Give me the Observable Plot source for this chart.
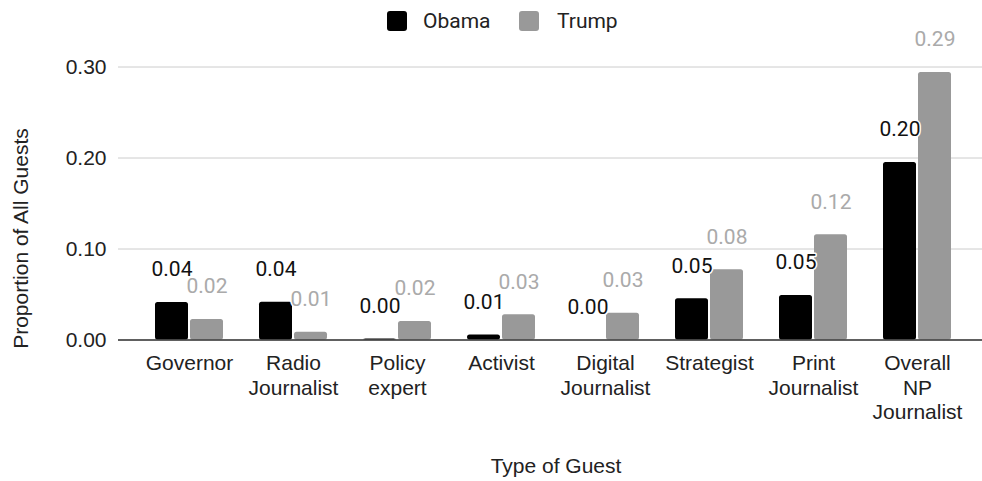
<!DOCTYPE html>
<html>
<head>
<meta charset="utf-8">
<script src="https://cdn.jsdelivr.net/npm/d3@7"></script>
<script src="https://cdn.jsdelivr.net/npm/@observablehq/plot@0.6"></script>
<style>
  body { margin: 0; background: #fff; }
  #wrap { position: relative; width: 982px; height: 481px; overflow: hidden; background: #fff; color: #222; }
  #chart { position: absolute; left: 0; top: 30px; }
  .sw { position: absolute; width: 20px; height: 20px; border-radius: 3px; top: 11px; }
  .lt { position: absolute; top: 11px; font: 21px/21px Roboto, "Liberation Sans", sans-serif; color: #222; white-space: nowrap; }
  #ytitle { position: absolute; width: 300px; height: 21px; left: -130.5px; top: 227.5px; text-align: center;
            font: 21px/21px "Liberation Sans", Arial, sans-serif; color: #222; transform: rotate(-90deg); transform-origin: 50% 50%; white-space: nowrap; }
  #xtitle { position: absolute; width: 300px; left: 406px; top: 455px; text-align: center;
            font: 21px/21px "Liberation Sans", Arial, sans-serif; color: #222; white-space: nowrap; }
</style>
</head>
<body>
<div id="wrap">
  <div class="sw" style="left:387px;background:#000"></div>
  <div class="lt" style="left:423px">Obama</div>
  <div class="sw" style="left:519px;background:#999"></div>
  <div class="lt" style="left:557px">Trump</div>
  <div id="chart"></div>
  <div id="ytitle">Proportion of All Guests</div>
  <div id="xtitle">Type of Guest</div>
</div>
<script>
const categories = ["Governor", "Radio\nJournalist", "Policy\nexpert", "Activist", "Digital\nJournalist", "Strategist", "Print\nJournalist", "Overall\nNP\nJournalist"];
const seriesNames = ["Obama", "Trump"];
const obama = [0.0412, 0.0415, 0.001, 0.0055, 0.0, 0.0453, 0.0489, 0.195];
const trump = [0.0225, 0.0086, 0.0203, 0.0277, 0.0295, 0.0771, 0.1156, 0.294];
const yTicks = [0, 0.1, 0.2, 0.3];

const fmt = d3.format(".2f");
const obRows = categories.map((c, i) => ({cat: c, series: seriesNames[0], value: obama[i]}));
const trRows = categories.map((c, i) => ({cat: c, series: seriesNames[1], value: trump[i]}));

const chart = Plot.plot({
  width: 982,
  height: 411,
  marginLeft: 118,
  marginRight: 0,
  marginTop: 36.5,
  marginBottom: 101.5,
  style: {fontFamily: "'Liberation Sans', Arial, sans-serif", fontSize: "21px", color: "#222", background: "transparent", overflow: "visible"},
  x: {type: "band", domain: categories, range: [135.25, 971.25], paddingInner: 0.349, paddingOuter: 0.1746},
  y: {domain: [0, 0.3]},
  marks: [
    Plot.gridY(yTicks, {stroke: "#cccccc", strokeOpacity: 1}),
    Plot.barY(obRows, {x: "cat", y: "value", fill: "#000", insetRight: 35, rx: 2.5}),
    Plot.barY(trRows, {x: "cat", y: "value", fill: "#999", insetLeft: 35, rx: 2.5}),
    Plot.ruleY([0], {stroke: "#333", strokeWidth: 1.3}),
    Plot.text(trRows, {x: "cat", y: "value", text: d => fmt(d.value), dx: 17.5, dy: -33, fill: "#aaa", stroke: "white", strokeWidth: 3, fontSize: 21, fontFamily: "Roboto"}),
    Plot.text(obRows, {x: "cat", y: "value", text: d => fmt(d.value), dx: -17.5, dy: -33, fill: "#111", stroke: "white", strokeWidth: 3, fontSize: 21, fontFamily: "Roboto"}),
    Plot.axisY(yTicks, {tickSize: 0, tickPadding: 12, tickFormat: fmt, label: null, fontSize: 21}),
    Plot.axisX({tickSize: 0, tickPadding: 12.5, lineHeight: 1.17, label: null, fontSize: 21})
  ]
});
document.getElementById("chart").appendChild(chart);
</script>
</body>
</html>
